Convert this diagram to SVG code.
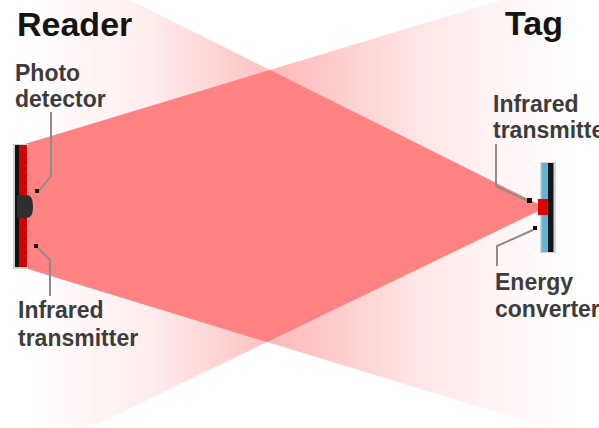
<svg xmlns="http://www.w3.org/2000/svg" width="599" height="428" viewBox="0 0 599 428">
  <style>
    .title { font-family: "Liberation Sans", Arial, sans-serif; font-weight: bold; font-size: 34px; fill: #141414; }
    .label { font-family: "Liberation Sans", Arial, sans-serif; font-weight: bold; font-size: 23px; fill: #3c3c3c; }
    .leader { fill: none; stroke: #8c8c8c; stroke-width: 2; stroke-linejoin: round; }
    .tip { fill: #111; }
  </style>
  <defs>
    <!-- tag beam fades out towards the reader side -->
    <linearGradient id="tagFade" gradientUnits="userSpaceOnUse" x1="540" y1="0" x2="30" y2="0">
      <stop offset="0" stop-color="#ff8282" stop-opacity="1"/>
      <stop offset="0.53" stop-color="#ff8282" stop-opacity="0.5"/>
      <stop offset="0.76" stop-color="#ff8282" stop-opacity="0.15"/>
      <stop offset="1" stop-color="#ff8282" stop-opacity="0"/>
    </linearGradient>
    <!-- reader beam fades out towards the tag side -->
    <linearGradient id="readerFade" gradientUnits="userSpaceOnUse" x1="22" y1="0" x2="575" y2="0">
      <stop offset="0" stop-color="#ff8282" stop-opacity="1"/>
      <stop offset="0.48" stop-color="#ff8282" stop-opacity="0.52"/>
      <stop offset="0.72" stop-color="#ff8282" stop-opacity="0.2"/>
      <stop offset="0.86" stop-color="#ff8282" stop-opacity="0.08"/>
      <stop offset="1" stop-color="#ff8282" stop-opacity="0"/>
    </linearGradient>
  </defs>

  <rect width="599" height="428" fill="#ffffff"/>

  <!-- beams -->
  <g id="beams">
    <polygon id="tag-beam" points="540,205 540,210 0,471 0,-65" fill="url(#tagFade)"/>
    <polygon id="reader-beam" points="22,145 599,-29.5 599,443.6 22,267" fill="url(#readerFade)"/>
    <polygon id="beam-overlap" points="22,145 270,70 540,205 540,210 267,342 22,267" fill="#ff8383"/>
  </g>

  <!-- reader device -->
  <g id="reader">
    <rect x="13" y="144" width="15" height="125" fill="#cfcfcf"/>
    <rect x="15" y="145" width="4" height="122" fill="#121212"/>
    <rect x="19" y="145" width="8" height="122" fill="#d80000"/>
    <line x1="25" y1="147" x2="25" y2="266" stroke="#8a0000" stroke-width="2" stroke-dasharray="2 5"/>
    <path d="M17,195 H27 Q33,195 33,206.5 Q33,218 27,218 H17 Z" fill="#2e2e2e"/>
    <text class="title" x="17" y="36">Reader</text>
  </g>

  <!-- tag device -->
  <g id="tag">
    <rect x="540" y="162" width="16" height="91" fill="#d6d6d6"/>
    <rect x="541.5" y="163" width="6.5" height="89" fill="#5fb5d6"/>
    <rect x="548" y="163" width="5.5" height="89" fill="#151515"/>
    <rect x="538" y="199" width="10" height="16" fill="#e00000"/>
    <text class="title" x="505" y="35">Tag</text>
  </g>

  <!-- component labels -->
  <g id="label-photo-detector">
    <text class="label" x="15" y="81">Photo</text>
    <text class="label" x="15" y="107">detector</text>
  </g>
  <g id="label-reader-transmitter">
    <text class="label" x="18" y="318">Infrared</text>
    <text class="label" x="18" y="346">transmitter</text>
  </g>
  <g id="label-tag-transmitter">
    <text class="label" x="493" y="112">Infrared</text>
    <text class="label" x="493" y="138">transmitter</text>
  </g>
  <g id="label-energy-converter">
    <text class="label" x="495" y="290">Energy</text>
    <text class="label" x="495" y="317">converter</text>
  </g>

  <!-- leader lines -->
  <g id="connectors">
    <polyline class="leader" points="51,112 51,176 39,191"/>
    <rect class="tip" x="35" y="189" width="4" height="4"/>
    <polyline class="leader" points="38,248 50,260 50,296"/>
    <rect class="tip" x="34" y="244" width="4" height="4"/>
    <polyline class="leader" points="496,144 496,186 528,201"/>
    <rect class="tip" x="527" y="198" width="5" height="5"/>
    <polyline class="leader" points="533,230 497,246 497,266"/>
    <rect class="tip" x="533" y="226" width="4" height="4"/>
  </g>
</svg>
